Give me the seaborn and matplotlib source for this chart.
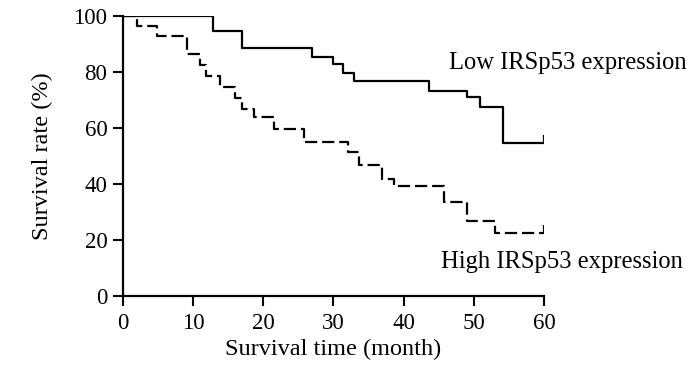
import matplotlib
matplotlib.use("Agg")
import matplotlib.pyplot as plt
import seaborn as sns
import pandas as pd

# Kaplan-Meier step data
low_time = [0, 12.9, 17.0, 27.0, 30.0, 31.4, 32.9, 43.7, 49.1, 50.9, 54.2, 60]
low_surv = [100, 94.7, 88.6, 85.2, 83.0, 79.6, 76.8, 73.3, 71.0, 67.4, 54.8, 54.8]

high_time = [0, 2.1, 4.9, 9.1, 11.0, 11.9, 13.8, 16.0, 17.0, 18.7, 21.5, 25.8,
             32.1, 33.7, 36.9, 38.6, 45.8, 49.0, 53.0, 60]
high_surv = [100, 96.4, 92.9, 86.4, 82.5, 78.6, 74.8, 70.6, 66.8, 64.0, 59.5, 55.1,
             51.3, 46.8, 41.7, 39.3, 33.7, 26.9, 22.6, 22.6]

x_ticks = [0, 10, 20, 30, 40, 50, 60]
y_ticks = [0, 20, 40, 60, 80, 100]
group_labels = ["Low IRSp53 expression", "High IRSp53 expression"]

sns.set_style("ticks")
plt.rcParams['font.family'] = ['Liberation Serif', 'DejaVu Serif']
plt.rcParams['text.color'] = 'black'

df = pd.concat([
    pd.DataFrame({"time": low_time, "surv": low_surv, "group": group_labels[0]}),
    pd.DataFrame({"time": high_time, "surv": high_surv, "group": group_labels[1]}),
])

fig = plt.figure(figsize=(7.0, 3.74), dpi=100)
ax = fig.add_axes([0.1753, 0.2086, 0.6017, 0.7485])

sns.lineplot(data=df[df.group == group_labels[0]], x="time", y="surv",
             drawstyle="steps-post", color="black", lw=1.6, ax=ax,
             estimator=None, sort=False, legend=False)
sns.lineplot(data=df[df.group == group_labels[1]], x="time", y="surv",
             drawstyle="steps-post", color="black", lw=1.6, ax=ax,
             estimator=None, sort=False, legend=False)
ax.lines[1].set_dashes((5.5, 2.2))

# censor ticks at the end of each curve
ax.plot([low_time[-1], low_time[-1]], [low_surv[-1], low_surv[-1] + 2.6],
        color="black", lw=1.6, solid_capstyle="butt")
ax.plot([high_time[-1], high_time[-1]], [high_surv[-1], high_surv[-1] + 2.6],
        color="black", lw=1.6, solid_capstyle="butt")

ax.set_xlim(0, 60)
ax.set_ylim(0, 100)
ax.set_xticks(x_ticks)
ax.set_yticks(y_ticks)
ax.tick_params(axis="both", labelsize=16.5, width=1.5, length=7, color="black",
               labelcolor="black")
ax.tick_params(axis="x", pad=5.5)
ax.tick_params(axis="y", pad=4)
for s in ["left", "bottom"]:
    ax.spines[s].set_linewidth(1.6)
    ax.spines[s].set_color("black")
sns.despine(ax=ax)

ax.set_xlabel("Survival time (month)", fontsize=17.5, color="black", labelpad=3)
ax.set_ylabel("Survival rate (%)", fontsize=17.5, color="black", labelpad=15)

ax.text(46.5, 83.4, group_labels[0], fontsize=17.7, va="center", ha="left",
        color="black", clip_on=False)
ax.text(45.3, 12.2, group_labels[1], fontsize=17.7, va="center", ha="left",
        color="black", clip_on=False)

fig.savefig("out.png", dpi=100)
